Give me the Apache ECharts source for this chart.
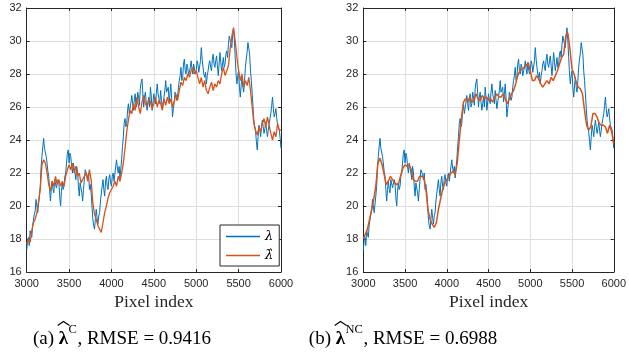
<!DOCTYPE html>
<html>
<head>
<meta charset="utf-8">
<script src="https://cdn.jsdelivr.net/npm/echarts@6/dist/echarts.min.js"></script>
<style>
html,body{margin:0;padding:0;background:#fff;}
#c{width:629px;height:360px;}
</style>
</head>
<body>
<div id="c"></div>
<script>
// ---- data ----
const xStart = 3000;
const trueStep = 10;          // sample spacing of lambda (blue)
const hatCStep = 20;          // sample spacing of lambda-hat C
const ncStep = 25;            // sample spacing of lambda-hat NC
const xTicks = [3000, 3500, 4000, 4500, 5000, 5500, 6000];
const yTicks = [16, 18, 20, 22, 24, 26, 28, 30, 32];

// true lambda (blue), same in both panels, 3000..6000 step 10
const lambdaTrue = [
17.3,17.9,18.1,17.6,18.5,18.3,18.1,18.8,18.9,19.5,
19.7,20.4,20.5,19.6,19.7,20.6,21.2,22.4,23.0,23.6,
24.1,23.5,23.4,23.0,22.6,22.1,21.8,21.0,20.3,21.0,
21.5,21.0,20.8,21.6,21.6,21.1,21.0,21.6,21.4,20.5,
20.0,20.9,21.4,21.0,21.2,21.8,22.0,22.6,23.2,23.4,
22.6,23.2,23.0,22.4,22.0,22.6,22.7,22.0,21.6,22.4,
22.1,21.2,20.6,21.4,21.3,20.8,20.3,21.0,21.6,22.2,
22.3,21.9,21.6,22.0,21.0,21.3,20.8,20.0,19.2,18.8,
18.6,18.5,19.8,19.3,18.9,19.4,19.6,20.3,20.4,21.2,
21.6,21.0,20.6,21.5,21.8,21.2,21.0,21.7,21.9,21.4,
21.2,21.8,22.0,21.5,21.6,22.4,22.8,22.3,22.0,22.4,
21.7,21.8,22.8,23.6,24.2,25.0,25.3,24.8,25.0,25.8,
26.2,25.6,25.5,26.3,26.7,26.2,25.8,26.5,26.8,26.0,
26.2,26.9,26.6,26.1,27.1,27.5,27.7,26.8,26.0,26.6,
26.9,26.3,25.8,26.2,26.6,26.0,27.2,26.6,25.8,26.3,
26.8,26.4,26.2,26.9,27.4,26.8,26.5,26.2,27.0,26.4,
25.9,26.3,26.6,27.0,27.6,26.9,26.8,27.2,26.3,26.8,
27.4,26.5,25.4,25.9,26.3,26.9,27.0,26.4,26.6,27.2,
27.6,27.9,28.4,27.6,27.8,28.6,28.9,28.2,28.0,28.6,
28.4,27.9,27.8,28.4,28.8,28.3,28.0,28.6,28.5,28.0,
28.2,28.8,28.6,28.1,28.0,28.8,29.6,28.9,28.4,28.0,
27.8,28.1,27.4,27.9,28.2,28.6,28.8,28.4,28.2,28.9,
29.2,28.6,28.4,28.8,29.1,28.5,27.9,28.6,29.3,28.7,
28.2,28.6,29.0,28.4,28.6,29.2,29.4,29.0,29.8,30.3,
30.2,29.8,29.6,30.4,30.8,30.0,29.0,28.0,27.4,27.9,
28.2,27.2,26.6,27.3,27.8,27.2,26.9,27.6,28.4,28.9,
29.3,29.9,29.8,29.2,28.2,27.6,26.8,26.0,25.2,24.8,
24.5,23.9,23.4,24.2,24.9,24.6,24.2,24.8,25.2,24.8,
24.4,24.7,25.1,24.6,24.2,24.6,25.0,25.3,25.6,26.1,
26.6,25.9,25.4,25.6,25.9,25.3,24.9,25.0,24.6,24.1,
23.5
];

// estimate lambda-hat C (panel a, orange), 3000..6000 step 20
const lambdaHatC = [
17.7,18.0,17.8,18.5,19.0,19.2,19.6,20.3,21.0,22.5,
22.8,22.6,22.0,21.3,20.9,21.5,21.2,21.8,21.3,21.6,
21.2,21.5,21.2,21.8,22.2,22.5,22.2,22.6,22.0,22.4,
21.8,22.0,21.4,21.6,21.8,22.0,21.5,22.2,21.6,20.2,
19.5,19.2,18.8,18.6,18.4,19.0,19.6,20.0,20.5,20.8,
21.0,21.2,21.5,21.2,21.8,21.5,22.0,22.6,23.5,24.5,
25.2,25.8,25.6,26.2,25.8,26.6,26.0,25.6,26.3,26.7,
26.2,26.0,26.5,26.3,25.9,26.2,26.6,26.0,26.4,26.2,
25.8,26.5,26.1,26.6,26.2,26.5,26.0,26.3,26.8,26.4,
27.0,27.5,27.3,27.8,27.6,28.0,27.8,28.2,28.4,28.0,
28.2,27.8,27.4,27.8,27.2,27.6,27.0,26.8,27.2,27.5,
27.0,27.4,27.2,27.6,27.4,28.0,28.4,27.9,28.2,28.5,
29.5,30.3,30.8,30.0,29.0,28.2,27.6,28.0,27.2,27.6,
27.3,27.8,27.0,26.0,25.0,24.6,24.3,24.8,24.5,25.0,
25.3,24.8,25.4,24.9,24.4,24.0,24.5,24.2,25.0,24.6,
24.6
];

// estimate lambda-hat NC (panel b, orange), 3000..6000 step 25
const lambdaHatNC = [
18.0,18.3,18.6,19.2,19.8,20.4,21.2,22.6,22.9,22.5,
21.9,21.3,21.5,21.8,21.6,21.4,21.3,21.4,21.9,22.3,
22.5,22.4,22.5,22.2,21.6,21.5,21.5,21.8,21.8,21.7,
21.0,19.8,19.2,18.9,18.7,19.0,19.8,20.4,21.0,21.4,
21.6,21.8,22.0,22.1,21.9,22.6,24.0,25.3,26.3,26.5,
26.3,26.6,26.3,26.4,26.8,26.5,26.4,26.7,26.5,26.6,
26.4,26.5,26.3,26.6,26.8,26.6,26.6,26.8,26.5,26.2,
26.5,26.8,27.0,27.4,27.9,28.2,28.3,28.4,28.5,28.7,
28.2,27.6,27.6,27.9,27.7,27.4,27.2,27.4,27.6,27.4,
27.8,27.6,27.9,28.2,28.6,29.0,29.2,30.3,30.5,29.5,
28.3,28.0,27.5,27.2,27.1,26.8,25.8,24.9,24.6,24.8,
25.6,25.6,25.4,25.0,24.9,24.9,24.8,24.4,24.9,24.5,
23.8
];

const seriesNames = ['\u03bb', '\u03bb\u0302'];
const captions = [
  {label: '(a) ', sym: '\u03bb', sup: 'C', rest: ', RMSE = 0.9416'},
  {label: '(b) ', sym: '\u03bb', sup: 'NC', rest: ', RMSE = 0.6988'}
];

// ---- build ----
function pairs(arr, step) { return arr.map((v, i) => [xStart + i * step, v]); }

const BLUE = '#0072BD', ORANGE = '#D95319', AX = '#262626';
const SERIF = 'Liberation Serif, Times New Roman, serif';
const tickFont = {fontFamily: 'Liberation Sans, Arial, sans-serif', fontSize: 11, color: AX};

const grids = [
  {left: 26.7, top: 8, width: 254.3, height: 264},
  {left: 363.3, top: 8, width: 254.4, height: 264}
];

const xAxes = [], yAxes = [];
grids.forEach((g, gi) => {
  const base = {
    type: 'value', min: xTicks[0], max: xTicks[xTicks.length - 1], interval: 500, gridIndex: gi
  };
  xAxes.push(Object.assign({}, base, {
    position: 'bottom',
    axisLine: {show: true, onZero: false, lineStyle: {color: AX, width: 1}},
    axisTick: {show: true, inside: true, length: 3, lineStyle: {color: AX}},
    axisLabel: Object.assign({margin: 6, formatter: v => String(v)}, tickFont),
    splitLine: {show: true, lineStyle: {color: '#dedede', width: 1}},
    name: 'Pixel index', nameLocation: 'middle', nameGap: 19,
    nameTextStyle: {fontFamily: SERIF, fontSize: 17.5, color: AX}
  }));
  xAxes.push(Object.assign({}, base, {
    position: 'top',
    axisLine: {show: true, onZero: false, lineStyle: {color: AX, width: 1}},
    axisTick: {show: true, inside: true, length: 3, lineStyle: {color: AX}},
    axisLabel: {show: false}, splitLine: {show: false}
  }));
  const ybase = {type: 'value', min: yTicks[0], max: yTicks[yTicks.length - 1], interval: 2, gridIndex: gi};
  yAxes.push(Object.assign({}, ybase, {
    position: 'left',
    axisLine: {show: true, onZero: false, lineStyle: {color: AX, width: 1}},
    axisTick: {show: true, inside: true, length: 3, lineStyle: {color: AX}},
    axisLabel: Object.assign({margin: 5, formatter: v => String(v)}, tickFont),
    splitLine: {show: true, lineStyle: {color: '#dedede', width: 1}}
  }));
  yAxes.push(Object.assign({}, ybase, {
    position: 'right',
    axisLine: {show: true, onZero: false, lineStyle: {color: AX, width: 1}},
    axisTick: {show: true, inside: true, length: 3, lineStyle: {color: AX}},
    axisLabel: {show: false}, splitLine: {show: false}
  }));
});

function lineSeries(name, data, color, gi, width, z) {
  return {
    name: name, type: 'line', data: data, xAxisIndex: gi * 2, yAxisIndex: gi * 2,
    symbol: 'none', showSymbol: false, animation: false, z: z,
    lineStyle: {color: color, width: width}, itemStyle: {color: color}
  };
}

const series = [
  lineSeries(seriesNames[0], pairs(lambdaTrue, trueStep), BLUE, 0, 1.0, 2),
  lineSeries(seriesNames[1], pairs(lambdaHatC, hatCStep), ORANGE, 0, 1.3, 3),
  lineSeries(seriesNames[0] + ' ', pairs(lambdaTrue, trueStep), BLUE, 1, 1.0, 2),
  lineSeries(seriesNames[1] + ' ', pairs(lambdaHatNC, ncStep), ORANGE, 1, 1.5, 3)
];

// captions laid out piecewise (measured), with a wide hat over bold lambda
const mctx = document.createElement('canvas').getContext('2d');
function tw(t, font) { mctx.font = font; return mctx.measureText(t).width; }
const capCenters = [122, 403];
const CAP_Y = 339, FS = 19, SUPFS = 12.5;
const fN = FS + 'px ' + SERIF, fB = 'bold ' + FS + 'px ' + SERIF, fS = SUPFS + 'px ' + SERIF;
const graphic = [];
captions.forEach((c, i) => {
  const w1 = tw(c.label, fN), w2 = tw(c.sym, fB), w3 = tw(c.sup, fS), w4 = tw(c.rest, fN);
  let x = capCenters[i] - (w1 + w2 + w3 + 1 + w4) / 2;
  const base = {verticalAlign: 'middle', align: 'left', fill: '#000'};
  graphic.push({type: 'text', x: x, y: CAP_Y, style: Object.assign({text: c.label, font: fN}, base)});
  x += w1;
  graphic.push({type: 'text', x: x, y: CAP_Y, style: Object.assign({text: c.sym, font: fB}, base)});
  graphic.push({type: 'polyline', shape: {points: [[x - 1, 325.5], [x + w2 / 2, 321.5], [x + w2 + 1.5, 325.5]]},
    style: {stroke: '#000', lineWidth: 1.1, fill: null}});
  x += w2 + 0.5;
  graphic.push({type: 'text', x: x, y: CAP_Y - 9, style: Object.assign({text: c.sup, font: fS}, base)});
  x += w3 + 0.5;
  graphic.push({type: 'text', x: x, y: CAP_Y, style: Object.assign({text: c.rest, font: fN}, base)});
});

const chart = echarts.init(document.getElementById('c'), null, {renderer: 'canvas'});
chart.setOption({
  animation: false,
  backgroundColor: '#fff',
  grid: grids,
  xAxis: xAxes,
  yAxis: yAxes,
  legend: {
    data: seriesNames,
    left: 220, top: 225,
    orient: 'vertical',
    icon: 'rect',
    itemWidth: 34, itemHeight: 1.5, itemGap: 6,
    padding: [5, 6, 4, 6],
    borderColor: AX, borderWidth: 1, backgroundColor: '#fff',
    textStyle: {fontFamily: 'DejaVu Serif, serif', fontSize: 13, fontStyle: 'italic', color: '#000', lineHeight: 12},
    selectedMode: false
  },
  series: series,
  graphic: graphic
});
</script>
</body>
</html>
